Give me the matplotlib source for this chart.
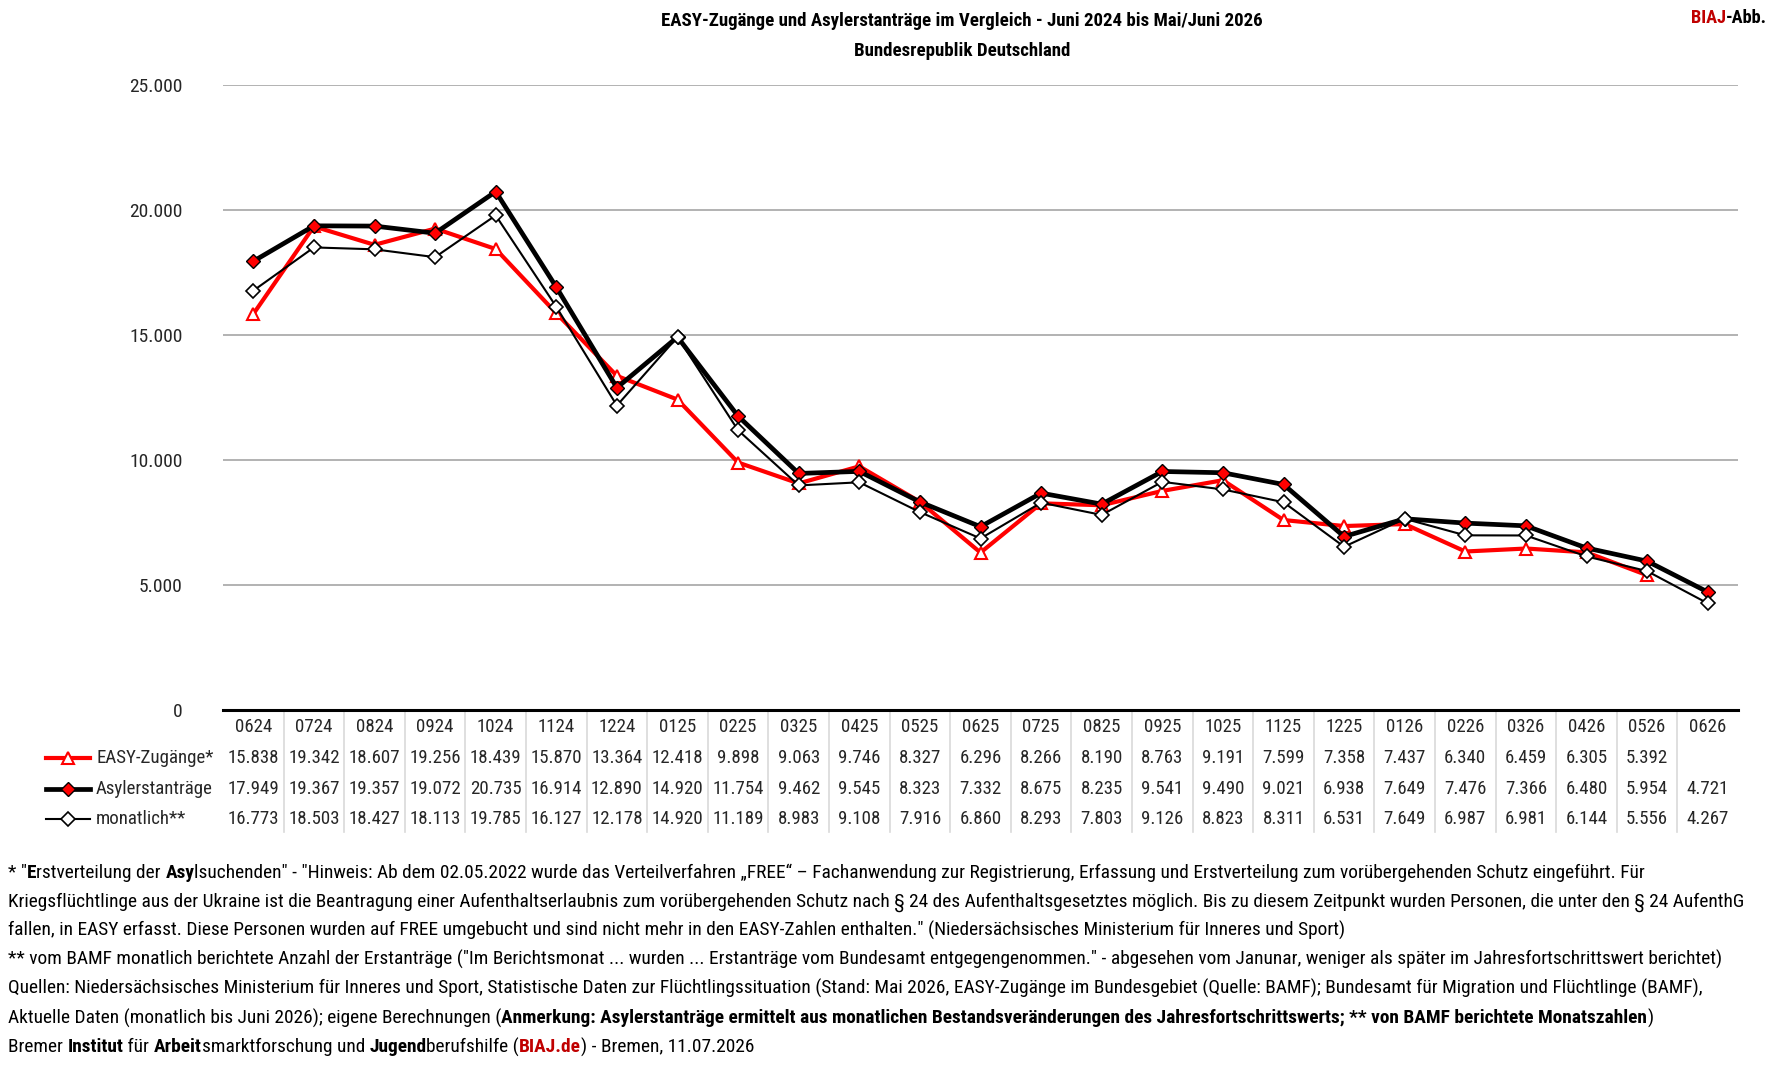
import matplotlib
matplotlib.use("Agg")
import matplotlib.pyplot as plt
from matplotlib import font_manager
from matplotlib.lines import Line2D
import numpy as np

# pick a narrow humanist font close to Calibri
avail = {f.name for f in font_manager.fontManager.ttflist}
for cand in ["Liberation Sans Narrow", "Roboto Condensed", "Open Sans Condensed",
             "Open Sans", "Lato", "DejaVu Sans"]:
    if cand in avail:
        FONT = cand
        break
plt.rcParams['font.family'] = [FONT, 'DejaVu Sans']

months = ["0624", "0724", "0824", "0924", "1024", "1124", "1224", "0125", "0225",
          "0325", "0425", "0525", "0625", "0725", "0825", "0925", "1025", "1125",
          "1225", "0126", "0226", "0326", "0426", "0526", "0626"]
easy = [15838, 19342, 18607, 19256, 18439, 15870, 13364, 12418, 9898, 9063, 9746,
        8327, 6296, 8266, 8190, 8763, 9191, 7599, 7358, 7437, 6340, 6459, 6305,
        5392, np.nan]
asyl = [17949, 19367, 19357, 19072, 20735, 16914, 12890, 14920, 11754, 9462, 9545,
        8323, 7332, 8675, 8235, 9541, 9490, 9021, 6938, 7649, 7476, 7366, 6480,
        5954, 4721]
monat = [16773, 18503, 18427, 18113, 19785, 16127, 12178, 14920, 11189, 8983, 9108,
         7916, 6860, 8293, 7803, 9126, 8823, 8311, 6531, 7649, 6987, 6981, 6144,
         5556, 4267]
yticks = [0, 5000, 10000, 15000, 20000, 25000]

W, H = 1775, 1065
fig = plt.figure(figsize=(W / 100, H / 100), dpi=100)
fig.patch.set_facecolor("white")

def fx(px):
    return px / W

def fy(py):
    return 1 - py / H

ax_l, ax_r, ax_t, ax_b = 223, 1738, 85, 710
ax = fig.add_axes([fx(ax_l), fy(ax_b), fx(ax_r - ax_l), (ax_b - ax_t) / H])
x = np.arange(len(months))

TS = 13.6
tcol = "#262626"

ax.set_xlim(-0.5, len(months) - 0.5)
ax.set_ylim(0, 25000)
for s in ["top", "right", "left"]:
    ax.spines[s].set_visible(False)
ax.spines["bottom"].set_linewidth(2.2)
ax.spines["bottom"].set_color("black")
ax.set_yticks(yticks)
ax.set_yticklabels(["{:,}".format(v).replace(",", ".") for v in yticks])
ax.tick_params(axis="y", length=0, pad=29, labelsize=14, labelcolor=tcol)
ax.set_xticks([])
for v in yticks[1:]:
    ax.axhline(v, color="#a6a6a6", lw=1.2, zorder=0)

st_easy = dict(color="red", lw=3.0, marker="^", ms=9, mfc="white", mec="red", mew=1.5)
st_asyl = dict(color="black", lw=3.4, marker="D", ms=7.5, mfc="red", mec="black", mew=1.0)
st_mon = dict(color="black", lw=1.5, marker="D", ms=7.5, mfc="white", mec="black", mew=1.2)

ax.plot(x, easy, zorder=3, **st_easy)
ax.plot(x, asyl, zorder=4, **st_asyl)
ax.plot(x, monat, zorder=5, **st_mon)

# data table below the axis
tr = ax.get_xaxis_transform()
ph = ax_b - ax_t
def ay(py):
    return (ax_b - py) / ph

for i in range(len(months) - 1):
    ax.plot([i + 0.5, i + 0.5], [0, ay(832)], transform=tr, color="#d9d9d9",
            lw=1.2, clip_on=False, zorder=1)

fmt = lambda v: "" if np.isnan(v) else "{:,}".format(int(v)).replace(",", ".")
for i, m in enumerate(months):
    ax.text(i, ay(727), m, transform=tr, ha="center", va="center", fontsize=TS, color=tcol)
    for row, yy in ((easy, 758), (asyl, 789), (monat, 819)):
        ax.text(i, ay(yy), fmt(float(row[i])), transform=tr, ha="center", va="center",
                fontsize=TS, color=tcol)

for name, yy, st in (("EASY-Zugänge*", 758, st_easy), ("Asylerstanträge", 789, st_asyl),
                     ("monatlich**", 819, st_mon)):
    fig.add_artist(Line2D([fx(46), fx(90)], [fy(yy), fy(yy)], transform=fig.transFigure,
                          color=st["color"], lw=st["lw"]))
    mk = {k: v for k, v in st.items() if k != "lw"}
    fig.add_artist(Line2D([fx(68)], [fy(yy)], transform=fig.transFigure, lw=0, **mk))
    fig.text(fx(96), fy(yy), name, ha="left", va="center", fontsize=TS, color=tcol)

# titles
fig.text(fx(962), fy(21), "EASY-Zugänge und Asylerstanträge im Vergleich - Juni 2024 bis Mai/Juni 2026",
         ha="center", va="center", fontsize=13.6, fontweight="bold")
fig.text(fx(962), fy(51), "Bundesrepublik Deutschland", ha="center", va="center",
         fontsize=13.6, fontweight="bold")

renderer = fig.canvas.get_renderer()

def rich(px, py, parts, size=12.5, draw=True):
    xx = fx(px)
    made = []
    for txt, bold, col in parts:
        t = fig.text(xx, fy(py), txt, ha="left", va="center", fontsize=size,
                     fontweight="bold" if bold else "normal", color=col)
        bb = t.get_window_extent(renderer)
        xx = bb.x1 / W
        made.append(t)
    if not draw:
        for t in made:
            t.remove()
    return xx * W

# right-aligned "BIAJ-Abb."
head = [("BIAJ", True, "#c00000"), ("-Abb.", True, "black")]
wh = rich(0, 18, head, size=13.2, draw=False)
rich(1767 - wh, 18, head, size=13.2)

notes = [
    [('* "', False, "black"), ("E", True, "black"), ("rstverteilung der ", False, "black"),
     ("Asy", True, "black"),
     ('lsuchenden" - "Hinweis: Ab dem 02.05.2022 wurde das Verteilverfahren „FREE“ – Fachanwendung zur Registrierung, Erfassung und Erstverteilung zum vorübergehenden Schutz eingeführt. Für', False, "black")],
    [("Kriegsflüchtlinge aus der Ukraine ist die Beantragung einer Aufenthaltserlaubnis zum vorübergehenden Schutz nach § 24 des Aufenthaltsgesetztes möglich. Bis zu diesem Zeitpunkt wurden Personen, die unter den § 24 AufenthG", False, "black")],
    [('fallen, in EASY erfasst. Diese Personen wurden auf FREE umgebucht und sind nicht mehr in den EASY-Zahlen enthalten." (Niedersächsisches Ministerium für Inneres und Sport)', False, "black")],
    [('** vom BAMF monatlich berichtete Anzahl der Erstanträge ("Im Berichtsmonat ... wurden ... Erstanträge vom Bundesamt entgegengenommen." - abgesehen vom Janunar, weniger als später im Jahresfortschrittswert berichtet)', False, "black")],
    [("Quellen: Niedersächsisches Ministerium für Inneres und Sport, Statistische Daten zur Flüchtlingssituation (Stand: Mai 2026, EASY-Zugänge im Bundesgebiet (Quelle: BAMF); Bundesamt für Migration und Flüchtlinge (BAMF),", False, "black")],
    [("Aktuelle Daten (monatlich bis Juni 2026); eigene Berechnungen (", False, "black"),
     ("Anmerkung: Asylerstanträge ermittelt aus monatlichen Bestandsveränderungen des Jahresfortschrittswerts; ** von BAMF berichtete Monatszahlen", True, "black"),
     (")", False, "black")],
    [("Bremer ", False, "black"), ("Institut", True, "black"), (" für ", False, "black"),
     ("Arbeit", True, "black"), ("smarktforschung und ", False, "black"), ("Jugend", True, "black"),
     ("berufshilfe (", False, "black"), ("BIAJ.de", True, "#c00000"),
     (") - Bremen, 11.07.2026", False, "black")],
]
ys = [873, 902, 930, 959, 988, 1018, 1047]

# size the footnote block so that its longest line ends where the reference's does
x0 = 8
longest = max(rich(x0, 0, p, size=12.0, draw=False) - x0 for p in notes)
fs = 12.0 * (1738 - x0) / longest
for parts, yy in zip(notes, ys):
    rich(x0, yy, parts, size=fs)

fig.savefig("out.png", dpi=100)
